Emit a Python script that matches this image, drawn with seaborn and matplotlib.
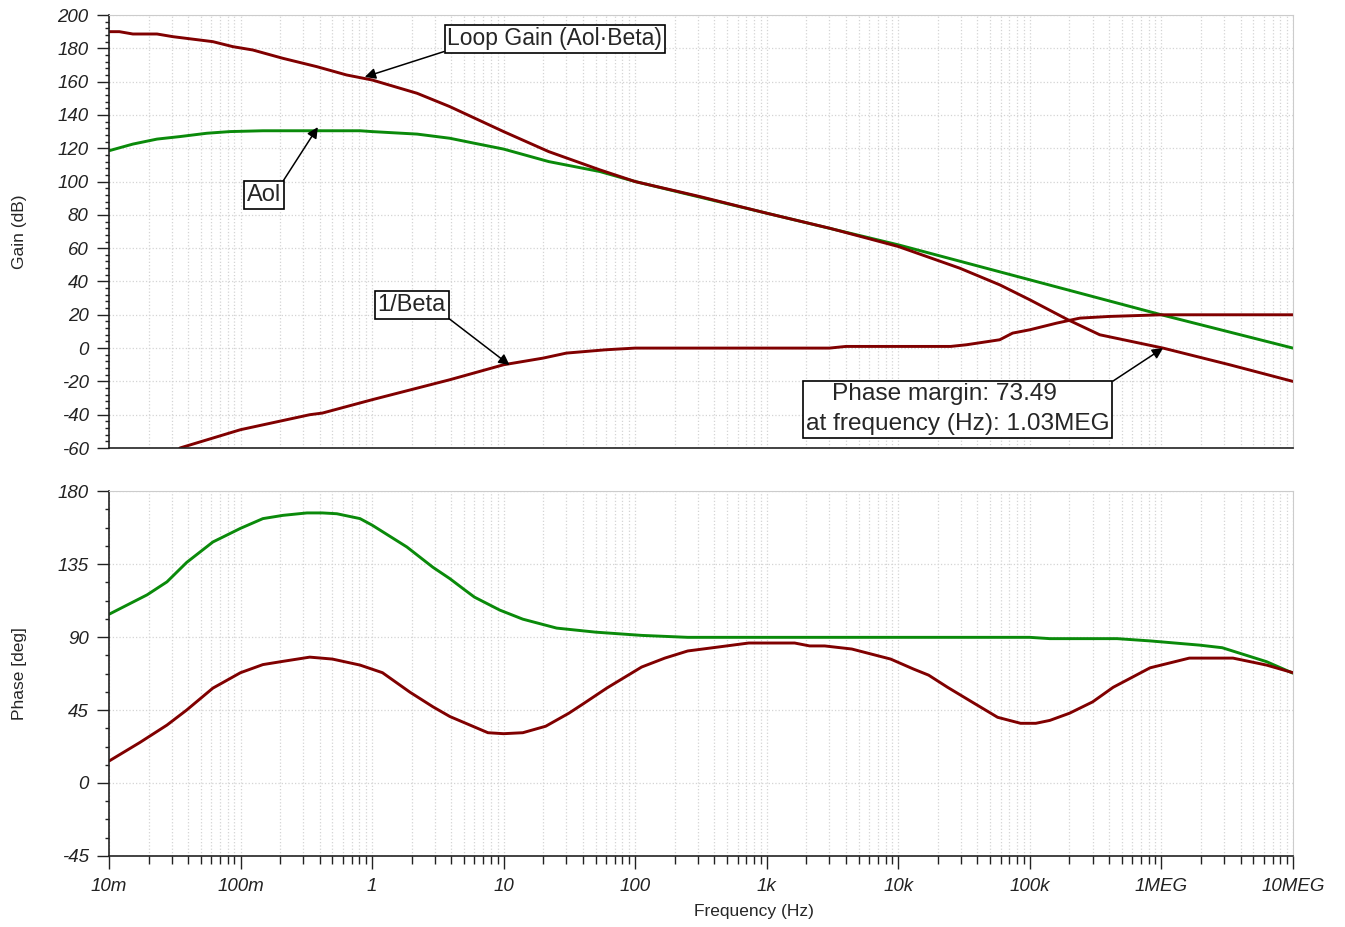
import numpy as np
import pandas as pd
import matplotlib
matplotlib.use("Agg")
import matplotlib.pyplot as plt
from matplotlib.ticker import LogLocator, FixedLocator, MultipleLocator, FuncFormatter, NullFormatter
import seaborn as sns

sns.set_style("white")
plt.rcParams['font.family'] = ['Liberation Sans', 'DejaVu Sans']
plt.rcParams['axes.unicode_minus'] = False

# gain traces (Hz, dB)
freq_loop = [0.01, 0.012, 0.0152, 0.0232, 0.0306, 0.0617, 0.0875, 0.124, 0.21, 0.38, 0.64, 1.0,
             2.2, 3.9, 10, 22, 54, 100, 310, 1000, 3000, 10000, 29300, 59000, 1e5, 1.95e5,
             3.4e5, 1.03e6, 3.3e6, 1e7]
gain_loop = [190, 190, 188.6, 188.6, 187, 184, 181, 179, 174, 169, 164, 161,
             153, 145, 130, 118, 107, 100, 91, 81, 72, 61, 48, 38, 29, 17,
             8, 0, -10, -20]

freq_aol = [0.01, 0.0152, 0.0232, 0.0346, 0.0554, 0.083, 0.148, 0.81, 1.0, 2.2, 3.9, 6.0,
            10, 22, 54, 100, 1000, 1e4, 1e5, 1e6, 1e7]
gain_aol = [118.5, 122.5, 125.5, 127, 129, 130, 130.5, 130.5, 130, 128.5, 126, 123,
            119.5, 112, 106, 100, 81, 62, 41, 20, 0]

freq_beta = [0.0346, 0.1, 0.336, 0.42, 1.0, 3.9, 10, 20, 30, 60, 100, 3000, 4000, 25000,
             33000, 59000, 74000, 1e5, 1.6e5, 2.4e5, 4e5, 1e6, 1e7]
gain_beta = [-60, -49, -40, -39, -31, -19, -10, -6, -3, -1, 0, 0, 1, 1,
             2, 5, 9, 11, 15, 18, 19, 20, 20]

# phase traces (Hz, deg)
freq_ph_aol = [0.01, 0.0195, 0.0276, 0.039, 0.0617, 0.1, 0.148, 0.21, 0.32, 0.42, 0.54, 0.81,
               1.0, 1.84, 2.9, 3.9, 5.07, 6.0, 9.35, 14, 25.3, 50, 112, 251, 1e5, 1.42e5,
               4.6e5, 8.2e5, 1.95e6, 2.9e6, 6.3e6, 1e7]
phase_aol = [104, 116, 124, 136, 148.6, 157, 163, 165, 166.5, 166.5, 166, 163,
             159, 145.5, 133, 126, 119, 114.6, 106.6, 101, 95.5, 93, 91, 89.8, 89.8, 89,
             89, 87.6, 85, 83.4, 74.8, 67.7]

freq_ph_loop = [0.01, 0.0172, 0.0276, 0.039, 0.0617, 0.1, 0.148, 0.21, 0.336, 0.5, 0.81, 1.2,
                1.94, 2.9, 3.9, 7.6, 10, 14, 20.9, 31.3, 40.6, 60.8, 112, 168, 251, 425, 730,
                1630, 2120, 2760, 4430, 8750, 13100, 17000, 23700, 38000, 56900, 85100,
                1.11e5, 1.42e5, 2.0e5, 3.0e5, 4.3e5, 8.2e5, 1.63e6, 3.5e6, 6.3e6, 1e7]
phase_loop = [13.5, 25, 35.7, 45, 58.5, 68, 73, 75, 77.6, 76.4, 72.7, 68,
              56, 47, 41, 31, 30.4, 31, 35, 43, 49, 58.5, 71.5, 77, 81.4, 83.8, 86.3,
              86.3, 84.5, 84.5, 82.6, 76.4, 70.2, 66.5, 59, 49, 40.5, 36.8,
              36.8, 38.6, 43, 50, 59, 71, 77, 77, 72.7, 68]

freq_labels = ['10m', '100m', '1', '10', '100', '1k', '10k', '100k', '1MEG', '10MEG']
freq_decades = [0.01, 0.1, 1, 10, 100, 1e3, 1e4, 1e5, 1e6, 1e7]

RED = '#800000'
GREEN = '#0a8a0a'
GRID = '#d4d4d4'
INK = '#222222'

fig = plt.figure(figsize=(13.45, 9.27), dpi=100)
ax1 = fig.add_axes([0.081, 0.5167, 0.8803, 0.4671])
ax2 = fig.add_axes([0.081, 0.0766, 0.8803, 0.3937])

def line(ax, f, v, color):
    df = pd.DataFrame({'f': f, 'v': v})
    sns.lineplot(data=df, x='f', y='v', ax=ax, color=color, lw=2.1, estimator=None, sort=False)

line(ax1, freq_aol, gain_aol, GREEN)
line(ax1, freq_beta, gain_beta, RED)
line(ax1, freq_loop, gain_loop, RED)
line(ax2, freq_ph_aol, phase_aol, GREEN)
line(ax2, freq_ph_loop, phase_loop, RED)

def fmt_freq(v, pos):
    i = int(round(np.log10(v))) + 2
    return freq_labels[i] if 0 <= i < len(freq_labels) else ''

for ax in (ax1, ax2):
    ax.set_xscale('log')
    ax.set_xlim(0.01, 1e7)
    ax.xaxis.set_major_locator(FixedLocator(freq_decades))
    ax.xaxis.set_minor_locator(LogLocator(base=10, subs=np.arange(2, 10), numticks=100))
    ax.xaxis.set_minor_formatter(NullFormatter())
    ax.grid(True, which='both', axis='x', color=GRID, linestyle=':', lw=0.9)
    ax.grid(True, which='major', axis='y', color=GRID, linestyle=':', lw=0.9)
    ax.set_axisbelow(True)
    for s in ('top', 'right'):
        ax.spines[s].set_color('#cccccc')
    for s in ('left', 'bottom'):
        ax.spines[s].set_color(INK)
        ax.spines[s].set_linewidth(1.2)
    ax.tick_params(axis='y', which='both', left=True)
    ax.tick_params(axis='y', which='major', direction='out', length=8.6, width=1,
                   labelsize=13.5, colors=INK, pad=6)
    ax.tick_params(axis='y', which='minor', direction='out', length=3, width=1, colors=INK)

ax1.set_ylim(-60, 200)
ax1.yaxis.set_major_locator(MultipleLocator(20))
ax1.yaxis.set_minor_locator(MultipleLocator(4))
ax1.tick_params(axis='x', which='both', bottom=False, labelbottom=False)
ax1.set_xlabel('')
ax1.set_ylabel('Gain (dB)', fontsize=12.5)
ax1.yaxis.set_label_coords(-0.069, 0.5)

ax2.set_ylim(-45, 180)
ax2.yaxis.set_major_locator(MultipleLocator(45))
ax2.yaxis.set_minor_locator(MultipleLocator(11.25))
ax2.xaxis.set_major_formatter(FuncFormatter(fmt_freq))
ax2.tick_params(axis='x', which='both', bottom=True)
ax2.tick_params(axis='x', which='major', direction='out', length=9.5, width=1,
                labelsize=13.5, colors=INK, pad=6)
ax2.tick_params(axis='x', which='minor', direction='out', length=5.8, width=1, colors=INK)
ax2.set_xlabel('Frequency (Hz)', fontsize=12.5)
ax2.xaxis.set_label_coords(0.545, -0.131)
ax2.set_ylabel('Phase [deg]', fontsize=12.5)
ax2.yaxis.set_label_coords(-0.069, 0.5)

for ax in (ax1, ax2):
    for lab in ax.get_yticklabels() + ax.get_xticklabels():
        lab.set_fontstyle('italic')

box = dict(boxstyle='square,pad=0.12', fc='white', ec='black', lw=1.2)
arrow = dict(arrowstyle='-|>', color='black', lw=1.1, mutation_scale=16, shrinkA=0, shrinkB=0)

ax1.annotate('Loop Gain (Aol·Beta)', xy=(0.88, 162.8), xytext=(24.5, 185.6),
             ha='center', va='center', fontsize=16.5, bbox=box,
             arrowprops=dict(arrow, relpos=(0, 0)))
ax1.annotate('Aol', xy=(0.387, 132.7), xytext=(0.151, 91.9),
             ha='center', va='center', fontsize=17, bbox=box,
             arrowprops=dict(arrow, relpos=(1, 1)))
ax1.annotate('1/Beta', xy=(11.1, -10.2), xytext=(2.0, 25.8),
             ha='center', va='center', fontsize=17, bbox=box,
             arrowprops=dict(arrow, relpos=(1, 0)))
ax1.annotate('Phase margin: 73.49    \nat frequency (Hz): 1.03MEG', xy=(1.03e6, 0), xytext=(28200, -36.6),
             ha='center', va='center', fontsize=17.6, bbox=dict(box, pad=0.15), linespacing=1.42,
             arrowprops=dict(arrow, relpos=(1, 1)))

fig.savefig('out.png', dpi=100)
